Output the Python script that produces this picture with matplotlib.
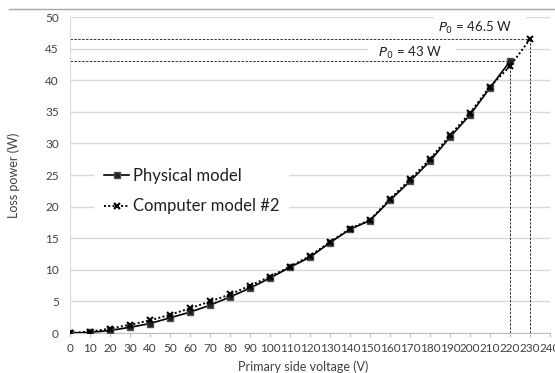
import matplotlib
matplotlib.use("Agg")
import matplotlib.pyplot as plt
from matplotlib.lines import Line2D
import numpy as np

plt.rcParams['font.family'] = ['Lato', 'DejaVu Sans']

# Data
volt_phys = [0, 10, 20, 30, 40, 50, 60, 70, 80, 90, 100, 110, 120,
             130, 140, 150, 160, 170, 180, 190, 200, 210, 220]
loss_phys = [0, 0.1, 0.4, 0.9, 1.5, 2.4, 3.3, 4.4, 5.7, 7.1, 8.7, 10.4, 12.0,
             14.3, 16.4, 17.8, 21.0, 24.0, 27.2, 31.0, 34.5, 38.8, 43.0]
volt_comp = [0, 10, 20, 30, 40, 50, 60, 70, 80, 90, 100, 110, 120,
             130, 140, 150, 160, 170, 180, 190, 200, 210, 220, 230]
loss_comp = [0, 0.2, 0.7, 1.3, 2.0, 2.9, 3.9, 5.0, 6.1, 7.5, 8.9, 10.5, 12.2,
             14.4, 16.5, 17.9, 21.2, 24.3, 27.5, 31.3, 34.8, 39.0, 42.2, 46.5]
p0_phys = (220, 43.0)
p0_comp = (230, 46.5)
xticks = np.arange(0, 241, 10)
yticks = np.arange(0, 51, 5)

W, H = 555, 373
fig = plt.figure(figsize=(W / 100, H / 100), dpi=100)
ax = fig.add_axes([70 / W, 1 - 333 / H, 480 / W, 316 / H])

grid_c = '#d9d9d9'
ax.set_xlim(0, 240)
ax.set_ylim(0, 50)
ax.set_xticks(xticks)
ax.set_yticks(yticks)
ax.yaxis.grid(True, color=grid_c, lw=1.0, zorder=0)
ax.set_axisbelow(True)
for s in ['top', 'right']:
    ax.spines[s].set_visible(False)
ax.spines['left'].set_color(grid_c)
ax.spines['bottom'].set_color('#bfbfbf')
ax.tick_params(axis='y', length=0, labelsize=8.5, colors='#404040', pad=8)
ax.tick_params(axis='x', length=3, color='#bfbfbf', labelsize=8.5, labelcolor='#404040', pad=4)

# white boxes behind the P0 labels (they hide the gridlines, not the dashed lines)
box = dict(facecolor='white', edgecolor='none', pad=3)
ax.text(205, 48.3, '$P_0$ = 46.5 W    ', ha='center', va='center', fontsize=9.5,
        color='#202020', bbox=box, zorder=1)
ax.text(171, 44.3, '  $P_0$ = 43 W    ', ha='center', va='center', fontsize=9.5,
        color='#202020', bbox=box, zorder=1)

# reference lines for P0
ref = dict(color='#303030', lw=0.7, ls=(0, (2.5, 1.5)), zorder=2)
ax.plot([0, p0_phys[0]], [p0_phys[1], p0_phys[1]], **ref)
ax.plot([p0_phys[0], p0_phys[0]], [0, p0_phys[1]], **ref)
ax.plot([0, p0_comp[0]], [p0_comp[1], p0_comp[1]], **ref)
ax.plot([p0_comp[0], p0_comp[0]], [0, p0_comp[1]], **ref)

ax.plot(volt_phys, loss_phys, color='black', lw=1.2, marker='s', ms=4,
        mfc='#202020', mec='#505050', zorder=4, label='Physical model')
ax.plot(volt_comp, loss_comp, color='black', lw=1.4, ls=(0, (1, 1.2)), marker='x',
        ms=4.5, mew=1.5, zorder=5, label='Computer model #2')

leg = ax.legend(loc='center left', bbox_to_anchor=(16 / 480, 0.5 - (191 - 175) / 316),
                frameon=True, fontsize=12, handlelength=1.5, handletextpad=0.2,
                labelspacing=0.9, borderpad=0.6, facecolor='white', edgecolor='none',
                framealpha=1.0, labelcolor='#202020')
leg.get_frame().set_linewidth(0)

ax.set_ylabel('Loss power (W)', fontsize=9, color='#404040')
ax.yaxis.set_label_coords(-(70 - 20) / 480, 0.5)
fig.text(303 / W, 1 - 367 / H, 'Primary side voltage (V)', ha='center', va='center',
         fontsize=9, color='#404040')

fig.add_artist(Line2D([9 / W, 1], [1 - 9 / H, 1 - 9 / H], color='#a6a6a6', lw=1.0))

fig.savefig('out.png', dpi=100)
